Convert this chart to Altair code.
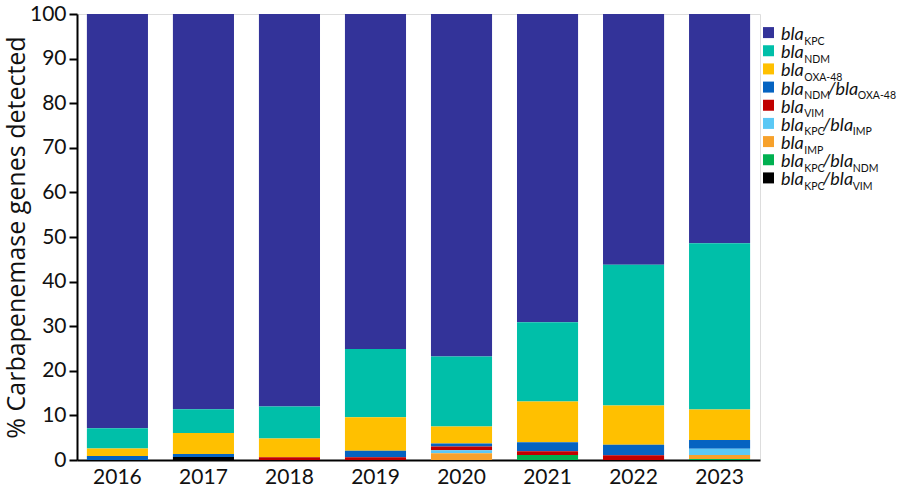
import altair as alt
import pandas as pd

# Years and carbapenemase gene groups (legend order, top to bottom)
years = ["2016", "2017", "2018", "2019", "2020", "2021", "2022", "2023"]
genes = ["KPC", "NDM", "OXA-48", "NDM/OXA-48", "VIM", "KPC/IMP", "IMP", "KPC/NDM", "KPC/VIM"]
colors = ["#333399", "#00BFA9", "#FFC000", "#0563C1", "#C00000", "#5BC8F5", "#F7A12B", "#00B050", "#000000"]

# Percent of carbapenemase genes detected per year
kpc        = [92.9, 88.6, 88.0, 75.1, 76.8, 69.1, 56.2, 51.4]
ndm        = [4.5, 5.35, 7.2, 15.3, 15.7, 17.8, 31.6, 37.3]
oxa48      = [1.7, 4.7, 4.2, 7.5, 3.8, 9.1, 8.8, 6.8]
ndm_oxa48  = [0.9, 0.65, 0.0, 1.5, 0.7, 2.05, 2.35, 2.0]
vim        = [0.0, 0.0, 0.6, 0.6, 0.8, 0.85, 1.05, 0.0]
kpc_imp    = [0.0, 0.0, 0.0, 0.0, 0.7, 0.0, 0.0, 1.4]
imp        = [0.0, 0.0, 0.0, 0.0, 1.5, 0.0, 0.0, 0.9]
kpc_ndm    = [0.0, 0.0, 0.0, 0.0, 0.0, 1.1, 0.0, 0.2]
kpc_vim    = [0.0, 0.7, 0.0, 0.0, 0.0, 0.0, 0.0, 0.0]

series = [kpc, ndm, oxa48, ndm_oxa48, vim, kpc_imp, imp, kpc_ndm, kpc_vim]

rows = []
for gi, (gene, vals) in enumerate(zip(genes, series)):
    for year, v in zip(years, vals):
        # stack from the bottom in reverse legend order
        rows.append({"year": year, "gene": gene, "pct": v, "stackpos": len(genes) - 1 - gi})
df = pd.DataFrame(rows)

FONT = "Lato"
TITLE_FONT = "Open Sans"
W, H = 683, 446

bars = alt.Chart(df).mark_bar().encode(
    x=alt.X("year:N", sort=years, title=None,
            scale=alt.Scale(paddingInner=0.29, paddingOuter=0.115),
            axis=alt.Axis(labelAngle=0, ticks=False, labelPadding=6, labelFontSize=21,
                          labelFont=FONT, labelColor="#111111", domainColor="#000000",
                          domainWidth=2)),
    y=alt.Y("pct:Q", stack="zero", title="% Carbapenemase genes detected",
            scale=alt.Scale(domain=[0, 100], nice=False),
            axis=alt.Axis(values=list(range(0, 101, 10)), grid=False, tickSize=8, tickWidth=2,
                          tickColor="#000000", domainColor="#000000", domainWidth=2,
                          labelPadding=3, labelFontSize=21, labelFont=FONT, labelColor="#111111",
                          titleFont=TITLE_FONT, titleFontSize=25, titleFontWeight="normal",
                          titleColor="#111111", titlePadding=0)),
    color=alt.Color("gene:N", scale=alt.Scale(domain=genes, range=colors), legend=None),
    order=alt.Order("stackpos:Q", sort="ascending"),
)

# Legend built from text pieces so the gene names can carry subscripts
CHAR_W = {"b": 0.56, "l": 0.25, "a": 0.51, "/": 0.37, "K": 0.62, "P": 0.6, "C": 0.64,
          "N": 0.74, "D": 0.73, "M": 0.88, "O": 0.78, "X": 0.62, "A": 0.68, "-": 0.37,
          "4": 0.58, "8": 0.58, "V": 0.67, "I": 0.28}
MAIN_SIZE, SUB_SIZE = 18, 10.5
LEG_X0 = 704


def text_w(s, size):
    return sum(CHAR_W.get(c, 0.6) for c in s) * size


pieces = []
for gene in genes:
    x = LEG_X0
    for k, part in enumerate(gene.split("/")):
        main = "bla" if k == 0 else "/bla"
        pieces.append({"gene": gene, "txt": main, "kind": "main", "px": x})
        x += text_w(main, MAIN_SIZE) - 0.5
        pieces.append({"gene": gene, "txt": part, "kind": "sub", "px": x})
        x += text_w(part, SUB_SIZE) - 1
leg = pd.DataFrame(pieces)
sw = pd.DataFrame({"gene": genes})

leg_y = alt.Y("gene:N", scale=alt.Scale(type="point", domain=genes, range=[9.5, 173]), axis=None)

swatch = alt.Chart(sw).mark_square(size=121, opacity=1).encode(
    x=alt.value(691.5),
    y=leg_y,
    color=alt.Color("gene:N", scale=alt.Scale(domain=genes, range=colors), legend=None),
)

main_txt = alt.Chart(leg).transform_filter(alt.datum.kind == "main").mark_text(
    align="left", baseline="alphabetic", dy=7.5, font=FONT, fontSize=MAIN_SIZE,
    fontStyle="italic", color="#111111"
).encode(x=alt.X("px:Q", scale=None, axis=None), y=leg_y, text="txt:N")

sub_txt = alt.Chart(leg).transform_filter(alt.datum.kind == "sub").mark_text(
    align="left", baseline="alphabetic", dy=12, font=FONT, fontSize=SUB_SIZE,
    color="#111111"
).encode(x=alt.X("px:Q", scale=None, axis=None), y=leg_y, text="txt:N")

chart = alt.layer(bars, swatch, main_txt, sub_txt).resolve_scale(
    x="independent", y="independent", color="independent"
).properties(
    width=W, height=H,
    autosize=alt.AutoSizeParams(type="none"),
    padding={"left": 77, "top": 14, "right": 140, "bottom": 30},
).configure_view(stroke=None).configure(background="#ffffff")

chart.save("out.html", embed_options={"renderer": "svg", "actions": False})
